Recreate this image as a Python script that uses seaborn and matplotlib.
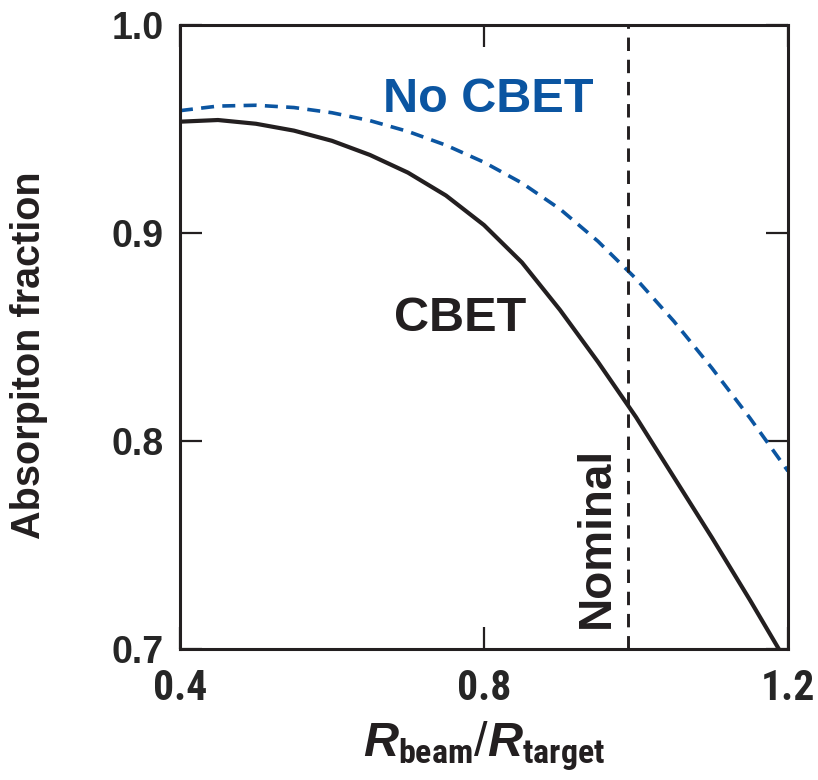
import numpy as np
import pandas as pd
import seaborn as sns
import matplotlib
matplotlib.use("Agg")
import matplotlib.pyplot as plt
from matplotlib import font_manager

# Beam-to-target radius ratio and absorption fractions
r_ratio = [0.40, 0.45, 0.50, 0.55, 0.60, 0.65, 0.70, 0.75, 0.80,
           0.85, 0.90, 0.95, 1.00, 1.05, 1.10, 1.15, 1.20]
absorb_cbet = [0.9535, 0.9543, 0.9525, 0.9492, 0.9443, 0.9375, 0.9290, 0.9180, 0.9038,
               0.8858, 0.8630, 0.8380, 0.8115, 0.7825, 0.7535, 0.7235, 0.6925]
absorb_no_cbet = [0.9588, 0.9610, 0.9614, 0.9603, 0.9578, 0.9540, 0.9488, 0.9422, 0.9340,
                  0.9240, 0.9115, 0.8960, 0.8780, 0.8575, 0.8350, 0.8110, 0.7855]
nominal_ratio = 0.99

x_ticks = [0.4, 0.8, 1.2]
y_ticks = [0.7, 0.8, 0.9, 1.0]
x_tick_labels = ["0.4", "0.8", "1.2"]
y_tick_labels = ["0.7", "0.8", "0.9", "1.0"]

sns.set_theme(style="ticks")


def pick_font(*names):
    for n in names:
        try:
            font_manager.findfont(font_manager.FontProperties(family=n), fallback_to_default=False)
            return n
        except Exception:
            continue
    return "DejaVu Sans"


narrow = pick_font("Liberation Sans Narrow", "Roboto Condensed", "Liberation Sans")
wide = pick_font("Liberation Sans", "Arial", "DejaVu Sans")
plt.rcParams["font.family"] = [wide, "DejaVu Sans"]
plt.rcParams["mathtext.fontset"] = "custom"
plt.rcParams["mathtext.it"] = f"{wide}:italic:bold"
plt.rcParams["mathtext.rm"] = f"{narrow}:bold"
plt.rcParams["mathtext.bf"] = f"{narrow}:bold"

df = pd.DataFrame({"ratio": r_ratio, "cbet": absorb_cbet, "nocbet": absorb_no_cbet})

fig = plt.figure(figsize=(8.18, 7.8), dpi=100)
ax = fig.add_axes([0.220, 0.168, 0.7433, 0.800])

blue = "#0b55a1"
black = "#231f20"

sns.lineplot(data=df, x="ratio", y="nocbet", ax=ax, color=blue, lw=2.6,
             linestyle=(0, (3.6, 2.3)))
sns.lineplot(data=df, x="ratio", y="cbet", ax=ax, color=black, lw=3.0)
ax.axvline(nominal_ratio, color=black, lw=2.1, linestyle=(0, (4.6, 3.0)))

ax.set_xlim(0.4, 1.2)
ax.set_ylim(0.7, 1.0)
ax.set_xticks(x_ticks)
ax.set_xticklabels(x_tick_labels, fontfamily=narrow, fontweight="bold", fontsize=30)
ax.set_yticks(y_ticks)
ax.set_yticklabels(y_tick_labels, fontfamily=wide, fontweight="bold", fontsize=27)

ax.tick_params(direction="in", length=16, width=1.6, color=black,
               top=True, right=True, pad=12)
ax.tick_params(axis="x", pad=14)
for s in ax.spines.values():
    s.set_linewidth(2.2)
    s.set_color(black)

ax.set_ylabel("Absorpiton fraction", fontfamily=wide, fontweight="bold",
              fontsize=28.5, color=black)
ax.yaxis.set_label_coords(-0.217, 0.47)
ax.set_xlabel(r"$\mathit{R}_{\mathrm{beam}}$/$\mathit{R}_{\mathrm{target}}$",
              fontsize=35, labelpad=7, color=black)

ax.text(0.805, 0.964, "No CBET", color=blue, fontfamily=wide, fontweight="bold",
        fontsize=35, ha="center", va="center")
ax.text(0.768, 0.8587, "CBET", color=black, fontfamily=wide, fontweight="bold",
        fontsize=35, ha="center", va="center")
ax.text(0.9487, 0.7534, "Nominal", color=black, fontfamily=wide, fontweight="bold",
        fontsize=33, ha="center", va="center", rotation=90)

fig.savefig("out.png", dpi=100)
